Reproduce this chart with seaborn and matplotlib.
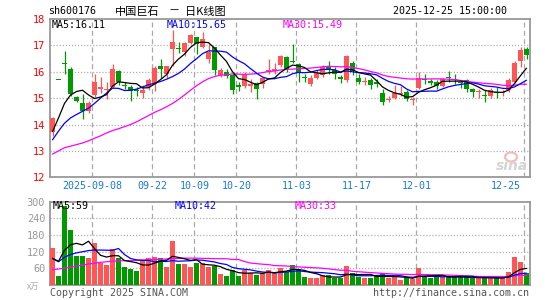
import numpy as np
import pandas as pd
import matplotlib
matplotlib.use("Agg")
import matplotlib.pyplot as plt
from matplotlib.patches import Ellipse
import seaborn as sns

# 日K数据 (2025-08-28 ~ 2025-12-25, 80 个交易日)
opens = [13.73, 15.69, 16.32, 16.09, 15.03, 14.80, 14.50, 15.12, 15.35, 15.30,
         15.42, 16.03, 15.50, 15.44, 15.30, 15.20, 15.42, 15.55, 16.20, 15.93,
         16.88, 16.90, 16.76, 17.10, 17.32, 16.95, 16.50, 16.92, 15.87, 15.99,
         15.86, 15.48, 15.47, 15.47, 15.58, 15.55, 16.00, 16.02, 16.25, 16.56,
         16.42, 16.30, 15.82, 15.52, 15.77, 15.87, 16.22, 16.08, 15.82, 15.68,
         16.33, 15.77, 15.63, 15.67, 15.63, 15.19, 14.93, 15.01, 15.17, 15.25,
         14.93, 15.38, 15.73, 15.64, 15.60, 15.46, 15.82, 15.73, 15.60, 15.67,
         15.35, 15.23, 15.12, 15.10, 15.25, 15.20, 15.32, 15.62, 16.40, 16.85]
highs = [14.30, 15.69, 16.80, 16.17, 15.10, 15.15, 14.88, 15.90, 15.82, 15.62,
         16.30, 16.05, 15.60, 15.50, 15.42, 15.48, 15.78, 16.22, 16.50, 16.22,
         17.60, 17.12, 17.12, 17.45, 17.33, 17.50, 17.05, 16.95, 16.13, 16.12,
         15.95, 15.60, 16.00, 15.73, 15.60, 15.80, 16.50, 16.35, 16.62, 16.58,
         17.06, 16.32, 15.93, 15.86, 16.05, 16.27, 16.40, 16.18, 15.86, 16.62,
         16.40, 15.92, 15.80, 15.76, 15.73, 15.35, 15.10, 15.48, 15.46, 15.30,
         15.04, 16.00, 15.92, 15.73, 15.70, 15.76, 16.02, 15.90, 15.67, 15.73,
         15.37, 15.33, 15.29, 15.38, 15.42, 15.32, 15.76, 16.40, 16.92, 16.95]
lows = [13.56, 15.69, 15.90, 15.10, 14.85, 14.20, 14.45, 15.05, 15.18, 14.95,
        15.38, 15.50, 15.35, 14.90, 15.07, 15.00, 15.30, 15.27, 15.75, 15.75,
        16.20, 16.70, 16.60, 17.05, 16.68, 16.90, 16.35, 15.88, 15.80, 15.78,
        15.15, 15.28, 15.38, 15.23, 14.95, 15.38, 15.92, 15.93, 16.18, 15.99,
        16.35, 15.60, 15.60, 15.46, 15.73, 15.80, 15.92, 15.73, 15.57, 15.60,
        15.87, 15.55, 15.50, 15.33, 15.42, 14.75, 14.85, 14.97, 15.10, 14.91,
        14.75, 15.35, 15.55, 15.48, 15.35, 15.42, 15.60, 15.55, 15.38, 15.25,
        15.06, 15.01, 14.87, 14.99, 15.00, 15.10, 15.25, 15.58, 16.18, 16.47]
closes = [14.26, 15.69, 16.28, 15.14, 14.89, 14.50, 14.80, 15.60, 15.42, 15.34,
          16.12, 15.62, 15.46, 15.26, 15.27, 15.32, 15.67, 16.15, 16.10, 16.20,
          17.12, 16.85, 17.08, 17.38, 17.06, 17.25, 16.75, 16.06, 16.05, 15.84,
          15.30, 15.44, 15.90, 15.54, 15.36, 15.75, 16.08, 16.10, 16.58, 16.12,
          16.38, 15.95, 15.78, 15.76, 15.95, 16.18, 16.12, 15.93, 15.71, 16.58,
          16.03, 15.62, 15.66, 15.48, 15.52, 14.85, 14.96, 15.19, 15.20, 14.98,
          14.96, 15.76, 15.70, 15.57, 15.46, 15.71, 15.78, 15.70, 15.57, 15.33,
          15.25, 15.26, 15.08, 15.32, 15.21, 15.23, 15.67, 16.34, 16.81, 16.63]
# 成交量 (万手)
volumes = [132, 32, 284, 198, 104, 104, 98, 152, 78, 72,
           128, 98, 66, 59, 52, 88, 96, 100, 96, 66,
           160, 76, 76, 66, 80, 78, 66, 68, 40, 32,
           54, 32, 56, 44, 36, 44, 56, 44, 61, 48,
           72, 56, 28, 25, 25, 36, 35, 25, 25, 68,
           42, 30, 27, 26, 34, 42, 26, 28, 18, 28,
           24, 62, 30, 26, 32, 28, 32, 28, 28, 28,
           26, 26, 26, 26, 26, 25, 46, 102, 84, 44]

# 均线窗口未满时的数值
ma5_head = [13.73, 14.25, 14.80, 15.12]
ma10_head = [13.42, 13.75, 14.05, 14.25, 14.38, 14.50, 14.62, 14.80, 15.00]
ma30_head = [12.88, 13.00, 13.12, 13.18, 13.24, 13.30, 13.38, 13.48, 13.57, 13.68,
             13.77, 13.84, 13.92, 14.00, 14.10, 14.22, 14.34, 14.46, 14.56, 14.67,
             14.80, 14.95, 15.12, 15.30, 15.47, 15.62, 15.74, 15.82, 15.87]
vma5_head = [96, 86, 125, 145]
vma10_head = [96, 84, 100, 110, 116, 120, 124, 126, 126]
vma30_head = [56, 58, 61, 64, 68, 72, 76, 79, 82, 84, 86, 87, 88, 88, 89, 90, 91,
              92, 93, 94, 95, 96, 97, 97, 97, 96, 96, 95, 95]

tick_labels = ["2025-09-08", "09-22", "10-09", "10-20", "11-03", "11-17", "12-01", "12-25"]
tick_index = [7, 17, 24, 31, 41, 51, 61, 79]

RED = "#ff5555"
GREEN = "#009a00"
GRID = "#a8a8a8"
BORDER = "#999999"


def with_head(values, window, head):
    s = pd.Series(values, dtype=float).rolling(window).mean()
    s.iloc[:len(head)] = head
    return s


df = pd.DataFrame({"idx": np.arange(len(closes)), "open": opens, "high": highs,
                   "low": lows, "close": closes, "vol": volumes})
df["ma5"] = with_head(closes, 5, ma5_head)
df["ma10"] = with_head(closes, 10, ma10_head)
df["ma30"] = with_head(closes, 30, ma30_head)
df["vma5"] = with_head(volumes, 5, vma5_head)
df["vma10"] = with_head(volumes, 10, vma10_head)
df["vma30"] = with_head(volumes, 30, vma30_head)

sns.set_theme(style="white")
plt.rcParams["font.family"] = ["DejaVu Sans Mono", "Noto Sans CJK SC"]
plt.rcParams["lines.scale_dashes"] = False

W, H = 545, 300
fig = plt.figure(figsize=(W / 100, H / 100), dpi=100)
fig.patch.set_facecolor("white")


def fx(x):
    return x / W


def fy(y):
    return 1 - y / H


ax = fig.add_axes([fx(50), fy(177.3), 480 / W, (177.3 - 19) / H])
axv = fig.add_axes([fx(50), fy(285.2), 480 / W, (285.2 - 201.5) / H])

colors = np.where(df["close"] > df["open"], RED, GREEN)
body = np.maximum((df["close"] - df["open"]).abs(), 0.035)

# K线
ax.vlines(df["idx"], df["low"], df["high"], colors=colors, lw=0.9, zorder=3)
ax.bar(df["idx"], body, bottom=np.minimum(df["open"], df["close"]), width=0.74,
       color=colors, linewidth=0, zorder=3)
sns.lineplot(data=df, x="idx", y="ma30", color="#ff00ff", lw=0.9, ax=ax, zorder=4)
sns.lineplot(data=df, x="idx", y="ma10", color="#0000ff", lw=0.9, ax=ax, zorder=5)
sns.lineplot(data=df, x="idx", y="ma5", color="black", lw=0.9, ax=ax, zorder=6)

# 成交量
axv.bar(df["idx"], df["vol"], width=0.8, color=colors, linewidth=0, zorder=3)
sns.lineplot(data=df, x="idx", y="vma30", color="#ff00ff", lw=0.9, ax=axv, zorder=4)
sns.lineplot(data=df, x="idx", y="vma10", color="#0000ff", lw=0.9, ax=axv, zorder=5)
sns.lineplot(data=df, x="idx", y="vma5", color="black", lw=0.9, ax=axv, zorder=6)

for a in (ax, axv):
    a.set_xlim(-0.4167, 79.5833)
    a.set_xlabel("")
    a.set_ylabel("")
    a.set_xticks([])
    for sp in a.spines.values():
        sp.set_color(BORDER)
        sp.set_linewidth(1.3)
    for p in tick_index:
        a.axvline(p - 0.35, color=GRID, lw=0.9, ls=(0, (3.6, 2.4)), zorder=1)

ax.set_ylim(12, 18)
ax.set_yticks([12, 13, 14, 15, 16, 17, 18])
ax.tick_params(axis="y", length=0, pad=3.5, labelcolor="#ff0000", labelsize=7.4)
for v in [13, 14, 15, 16, 17]:
    ax.axhline(v, color=GRID, lw=0.9, ls=(0, (0.8, 1.4)), zorder=1)

axv.set_ylim(0, 300)
axv.set_yticks([60, 120, 180, 240, 300])
axv.tick_params(axis="y", length=0, pad=3.5, labelcolor="#999999", labelsize=7.4)
for v in [60, 120, 180, 240]:
    axv.axhline(v, color=GRID, lw=0.9, ls=(0, (0.8, 1.4)), zorder=1)

# 日期标签
for lab, p in zip(tick_labels, tick_index):
    xpos = p - 0.35 if lab != "12-25" else 75.6
    ax.text(xpos, -0.053, lab, transform=ax.get_xaxis_transform(), ha="center",
            va="center", color="#1a7ad4", fontsize=7.2)

# 标题行
fs = 7.2
cjk = ["Noto Sans CJK SC", "DejaVu Sans"]
fig.text(fx(48), fy(11.5), "sh600176", ha="left", va="center", fontsize=fs, color="black")
fig.text(fx(115), fy(11.5), "中国巨石", ha="left", va="center", fontsize=8, color="black",
         family=cjk)
fig.text(fx(174), fy(11.5), "－", ha="center", va="center", fontsize=8, color="black",
         family=cjk)
fig.text(fx(185), fy(11.5), "日K线图", ha="left", va="center", fontsize=8, color="black",
         family=cjk)
fig.text(fx(507), fy(11.5), "2025-12-25 15:00:00", ha="right", va="center", fontsize=fs,
         color="black")

# 均线图例
fig.text(fx(52), fy(24.5), "MA5:16.11", ha="left", va="center", fontsize=fs, color="black")
fig.text(fx(167), fy(24.5), "MA10:15.65", ha="left", va="center", fontsize=fs, color="#0000ff")
fig.text(fx(283), fy(24.5), "MA30:15.49", ha="left", va="center", fontsize=fs, color="#ff00ff")
fig.text(fx(53), fy(206), "MA5:59", ha="left", va="center", fontsize=fs, color="black")
fig.text(fx(175), fy(206), "MA10:42", ha="left", va="center", fontsize=fs, color="#0000ff")
fig.text(fx(295), fy(206), "MA30:33", ha="left", va="center", fontsize=fs, color="#ff00ff")

# 水印与底部文字
fig.add_artist(Ellipse((fx(511), fy(157)), 12 / W, 9 / H, transform=fig.transFigure,
                       facecolor="none", edgecolor="#f2bcbc", lw=1.6))
fig.text(fx(528), fy(166), "sina", ha="right", va="center", fontsize=10, color="#d4d4d4",
         style="italic", weight="bold", family="DejaVu Sans")
fig.text(fx(27), fy(286.5), "x万", ha="left", va="center", fontsize=6, color="#aaaaaa",
         family=cjk)
fig.text(fx(50), fy(292.5), "Copyright 2025 SINA.COM", ha="left", va="center",
         fontsize=fs, color="#555555")
fig.text(fx(529), fy(292.5), "http://finance.sina.com.cn", ha="right", va="center",
         fontsize=fs, color="#555555")

fig.savefig("out.png", dpi=100, facecolor="white")
